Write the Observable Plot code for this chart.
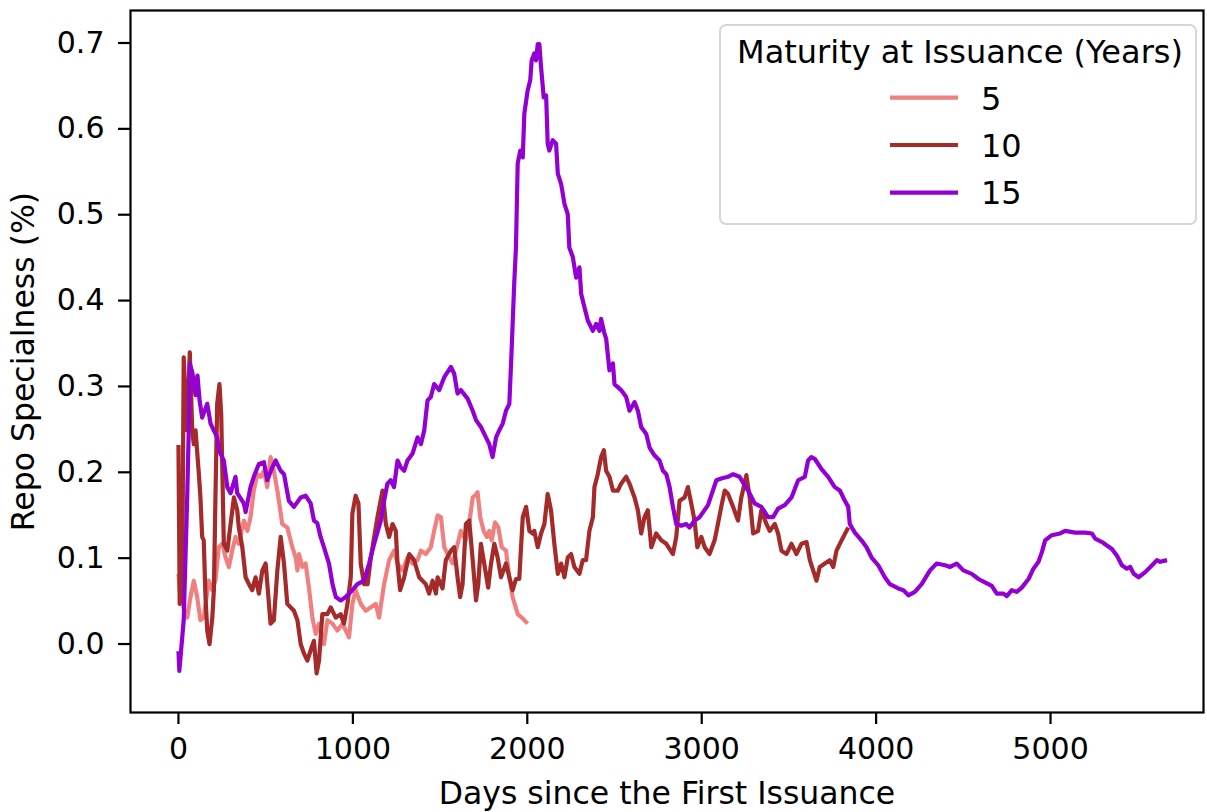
<!DOCTYPE html>
<html><head><meta charset="utf-8">
<script src="https://cdn.jsdelivr.net/npm/d3@7"></script>
<script src="https://cdn.jsdelivr.net/npm/@observablehq/plot@0.6"></script>
<style>
body{margin:0;background:#fff;font-family:"DejaVu Sans",sans-serif;}
#wrap{position:relative;width:1207px;height:812px;overflow:hidden;}
#wrap svg.legend{position:absolute;left:0;top:0;}
</style></head><body><div id="wrap"></div>
<script>
// Series: maturity at issuance 5 years
const days5 = [0,7,21,50,69,88,107,126,145,174,194,212,231,251,270,289,308,327,346,375,395,413,432,452,471,490,509,528,547,567,595,624,653,672,682,691,710,729,748,768,787,806,834,854,883,911,940,959,978,997,1016,1045,1074,1103,1131,1150,1179,1208,1236,1256,1285,1313,1342,1371,1390,1418,1447,1466,1486,1505,1524,1552,1572,1591,1619,1648,1667,1687,1700,1715,1730,1750,1769,1782,1796,1815,1834,1853,1878,1897,1916,1945,1974,2002];
const vals5 = [0.080,0.061,0.045,0.029,0.053,0.072,0.053,0.026,0.029,0.072,0.061,0.072,0.111,0.115,0.099,0.088,0.107,0.123,0.115,0.142,0.130,0.146,0.177,0.196,0.193,0.200,0.181,0.216,0.200,0.177,0.138,0.134,0.111,0.099,0.084,0.103,0.088,0.092,0.064,0.029,0.010,0.022,-0.002,0.026,0.022,0.014,0.022,0.014,0.006,0.045,0.061,0.045,0.037,0.041,0.045,0.029,0.068,0.096,0.107,0.092,0.084,0.099,0.092,0.096,0.107,0.103,0.111,0.130,0.148,0.146,0.111,0.099,0.092,0.107,0.130,0.119,0.138,0.169,0.171,0.175,0.146,0.130,0.123,0.130,0.119,0.140,0.134,0.111,0.107,0.076,0.053,0.033,0.028,0.022];

// Series: maturity at issuance 10 years
const days10 = [0,7,21,30,40,50,65,79,88,98,117,126,136,145,155,165,178,194,203,212,222,235,245,260,280,299,318,337,346,366,385,404,423,442,461,481,500,528,547,567,586,605,624,662,682,701,720,739,758,777,792,806,825,854,873,902,930,949,969,988,997,1016,1032,1045,1064,1084,1103,1141,1170,1189,1208,1227,1246,1256,1271,1294,1323,1351,1380,1418,1437,1457,1476,1486,1514,1533,1562,1581,1600,1615,1629,1648,1667,1687,1706,1719,1734,1753,1776,1792,1811,1830,1849,1878,1897,1916,1935,1954,1974,1993,2012,2031,2040,2060,2079,2098,2117,2136,2155,2175,2194,2213,2232,2251,2270,2299,2318,2337,2356,2376,2385,2404,2423,2439,2452,2471,2491,2519,2538,2567,2586,2615,2634,2653,2672,2691,2711,2739,2768,2797,2835,2854,2873,2902,2921,2940,2959,2975,2998,3017,3045,3074,3093,3112,3132,3151,3180,3208,3227,3256,3275,3295,3323,3342,3371,3390,3419,3438,3457,3486,3515,3543,3572,3601,3620,3639,3658,3677,3706,3734,3754,3773,3802,3830,3840];
const vals10 = [0.230,0.045,0.053,0.332,0.286,0.247,0.338,0.247,0.231,0.247,0.196,0.169,0.123,0.119,0.053,0.014,-0.002,0.029,0.061,0.169,0.278,0.301,0.266,0.115,0.107,0.138,0.169,0.154,0.134,0.111,0.076,0.068,0.061,0.076,0.057,0.084,0.092,0.022,0.026,0.084,0.123,0.092,0.045,0.037,0.026,-0.002,-0.013,-0.021,-0.009,0.002,-0.036,-0.021,0.033,0.033,0.041,0.029,0.033,0.022,0.045,0.076,0.150,0.171,0.162,0.092,0.068,0.068,0.099,0.146,0.177,0.138,0.123,0.138,0.130,0.092,0.061,0.076,0.103,0.096,0.076,0.068,0.057,0.072,0.057,0.076,0.063,0.096,0.107,0.111,0.076,0.053,0.068,0.138,0.142,0.096,0.049,0.068,0.115,0.092,0.064,0.092,0.115,0.099,0.076,0.092,0.076,0.061,0.074,0.074,0.146,0.158,0.130,0.127,0.130,0.111,0.127,0.138,0.173,0.154,0.115,0.080,0.092,0.076,0.099,0.103,0.088,0.080,0.096,0.096,0.130,0.146,0.181,0.196,0.216,0.224,0.200,0.193,0.177,0.177,0.185,0.193,0.185,0.169,0.154,0.127,0.146,0.154,0.111,0.127,0.119,0.115,0.103,0.123,0.165,0.169,0.181,0.162,0.142,0.111,0.123,0.111,0.103,0.119,0.138,0.158,0.177,0.173,0.158,0.142,0.169,0.195,0.169,0.127,0.130,0.154,0.138,0.130,0.138,0.127,0.107,0.103,0.115,0.103,0.115,0.117,0.096,0.084,0.072,0.088,0.092,0.096,0.088,0.107,0.119,0.130,0.134];

// Series: maturity at issuance 15 years
const days15 = [0,5,30,50,59,65,80,98,109,121,136,165,184,222,231,260,280,299,327,337,375,385,413,432,461,490,509,538,557,586,605,633,662,701,729,758,777,796,815,834,863,883,902,930,959,988,1026,1064,1093,1122,1160,1179,1198,1217,1236,1256,1275,1294,1313,1342,1371,1390,1409,1428,1447,1466,1495,1524,1562,1581,1600,1619,1658,1687,1706,1734,1763,1782,1801,1821,1839,1859,1878,1897,1907,1916,1925,1935,1945,1960,1974,1983,2002,2017,2025,2040,2050,2060,2069,2079,2094,2108,2117,2126,2146,2165,2175,2194,2213,2232,2241,2261,2280,2299,2309,2327,2347,2376,2395,2414,2423,2442,2452,2471,2491,2500,2538,2567,2586,2615,2634,2653,2682,2701,2729,2758,2778,2797,2816,2835,2854,2883,2911,2930,2959,2988,3036,3084,3112,3151,3180,3217,3266,3304,3342,3381,3409,3438,3476,3515,3553,3591,3610,3629,3648,3687,3725,3763,3792,3821,3840,3849,3878,3916,3945,3974,4012,4050,4079,4127,4156,4185,4222,4261,4309,4347,4395,4424,4462,4500,4548,4587,4624,4663,4692,4730,4749,4778,4806,4835,4874,4902,4931,4950,4969,5007,5055,5084,5141,5199,5237,5256,5295,5323,5352,5381,5409,5438,5457,5477,5505,5543,5582,5610,5629,5668];
const vals15 = [-0.010,-0.033,0.026,0.169,0.247,0.325,0.314,0.288,0.311,0.282,0.262,0.278,0.255,0.239,0.224,0.212,0.181,0.174,0.193,0.174,0.162,0.152,0.181,0.193,0.208,0.210,0.189,0.204,0.212,0.200,0.196,0.165,0.158,0.169,0.171,0.162,0.142,0.139,0.123,0.111,0.092,0.068,0.053,0.049,0.053,0.059,0.068,0.072,0.092,0.115,0.142,0.165,0.185,0.189,0.181,0.212,0.204,0.200,0.212,0.220,0.239,0.231,0.247,0.282,0.286,0.301,0.294,0.309,0.321,0.313,0.290,0.294,0.284,0.270,0.259,0.251,0.239,0.231,0.216,0.239,0.247,0.255,0.270,0.278,0.325,0.371,0.418,0.460,0.558,0.573,0.565,0.616,0.643,0.655,0.678,0.686,0.678,0.697,0.697,0.670,0.635,0.637,0.581,0.573,0.585,0.581,0.546,0.534,0.511,0.499,0.460,0.449,0.425,0.437,0.406,0.391,0.375,0.363,0.371,0.363,0.377,0.360,0.354,0.317,0.325,0.301,0.294,0.286,0.270,0.280,0.270,0.251,0.243,0.227,0.218,0.212,0.200,0.196,0.181,0.158,0.138,0.136,0.138,0.134,0.142,0.146,0.160,0.189,0.191,0.193,0.196,0.193,0.177,0.162,0.158,0.146,0.146,0.156,0.160,0.169,0.189,0.193,0.212,0.216,0.214,0.202,0.193,0.181,0.177,0.165,0.158,0.138,0.128,0.119,0.111,0.099,0.090,0.076,0.068,0.063,0.061,0.055,0.059,0.068,0.084,0.092,0.090,0.088,0.092,0.084,0.080,0.074,0.070,0.066,0.057,0.057,0.054,0.061,0.059,0.064,0.074,0.086,0.094,0.105,0.119,0.125,0.127,0.130,0.128,0.128,0.127,0.121,0.117,0.113,0.109,0.101,0.090,0.086,0.088,0.080,0.076,0.082,0.090,0.096,0.094,0.096];

const seriesNames = ["5", "10", "15"];
const seriesColors = ["#F08080", "#A52A2A", "#9400D3"];
const xTicks = [0, 1000, 2000, 3000, 4000, 5000];
const yTicks = [0, 0.1, 0.2, 0.3, 0.4, 0.5, 0.6, 0.7];
const legendTitle = "Maturity at Issuance (Years)";
const xLabel = "Days since the First Issuance";
const yLabel = "Repo Specialness (%)";

const seriesData = [[days5, vals5], [days10, vals10], [days15, vals15]];
const rows = [];
seriesData.forEach(([ds, vs], i) => {
  ds.forEach((d, j) => rows.push({series: seriesNames[i], day: d, val: vs[j]}));
});

const TICK_FS = 30;
const LABEL_FS = 31.5;
const LEGEND_FS = 32;
const chart = Plot.plot({
  width: 1207, height: 812,
  marginLeft: 130, marginTop: 10, marginRight: 4, marginBottom: 100,
  style: {fontFamily: "DejaVu Sans", background: "white", color: "black"},
  x: {domain: [-275, 5877]},
  y: {domain: [-0.0815, 0.7361]},
  color: {domain: seriesNames, range: seriesColors},
  marks: [
    Plot.line(rows, {x: "day", y: "val", z: "series", stroke: "series", strokeWidth: 4.2, strokeLinejoin: "round", strokeLinecap: "butt"}),
    Plot.frame({stroke: "black", strokeWidth: 2.2}),
    Plot.axisX({ticks: xTicks, tickSize: 12, tickPadding: 13, fontSize: TICK_FS, strokeWidth: 2.2, label: null, tickFormat: d3.format("d")}),
    Plot.axisY({ticks: yTicks, tickSize: 12, tickPadding: 14, fontSize: TICK_FS, strokeWidth: 2.2, label: null, tickFormat: d3.format(".1f"), dy: 1.5}),
    Plot.text([yLabel], {frameAnchor: "left", dx: -107, rotate: -90, fontSize: LABEL_FS, textAnchor: "middle", lineAnchor: "middle", fill: "black"}),
    Plot.text([xLabel], {frameAnchor: "bottom", dy: 81, fontSize: LABEL_FS, textAnchor: "middle", lineAnchor: "middle", fill: "black"})
  ]
});

const wrap = document.getElementById("wrap");
wrap.appendChild(chart);

// Legend overlay
const leg = d3.select(wrap).append("svg").attr("class", "legend")
  .attr("width", 1207).attr("height", 812)
  .style("font-family", "DejaVu Sans");
leg.append("rect").attr("x", 720).attr("y", 25).attr("width", 476).attr("height", 199).attr("rx", 6)
  .attr("fill", "white").attr("fill-opacity", 0.8).attr("stroke", "#d6d6d6").attr("stroke-width", 2);
leg.append("text").attr("x", 960).attr("y", 63.3).attr("text-anchor", "middle")
  .attr("font-size", LEGEND_FS).attr("fill", "black").text(legendTitle);
const lineYs = [97.7, 145, 192.7];
const textYs = [110, 156.7, 204.3];
seriesNames.forEach((n, i) => {
  leg.append("line").attr("x1", 890).attr("x2", 958).attr("y1", lineYs[i]).attr("y2", lineYs[i])
    .attr("stroke", seriesColors[i]).attr("stroke-width", 4.2);
  leg.append("text").attr("x", 981).attr("y", textYs[i]).attr("font-size", LEGEND_FS).attr("fill", "black").text(n);
});
</script>
</body></html>
